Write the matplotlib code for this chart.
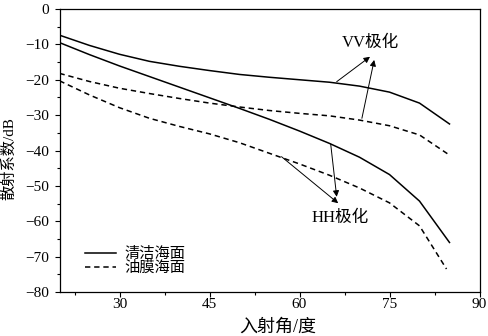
import numpy as np
import matplotlib
matplotlib.use("Agg")
import matplotlib.pyplot as plt

plt.rcParams['font.family'] = ['Liberation Serif', 'Noto Sans CJK SC']
plt.rcParams['axes.unicode_minus'] = True

# incidence angle (deg)
angle = [20, 25, 30, 35, 40, 45, 50, 55, 60, 65, 70, 75, 80, 85]
angle_hh_oil = [20, 25, 30, 35, 40, 45, 50, 55, 60, 65, 70, 75, 80, 84.5]
# backscatter (dB)
vv_clean = [-7.4, -10.3, -12.8, -14.8, -16.2, -17.4, -18.5, -19.3, -20.0, -20.7, -21.8, -23.5, -26.6, -32.5]
hh_clean = [-9.5, -12.9, -16.1, -19.1, -22.1, -25.1, -28.1, -31.2, -34.5, -38.0, -41.9, -46.8, -54.3, -66.0]
vv_oil = [-18.2, -20.5, -22.4, -23.9, -25.3, -26.6, -27.7, -28.7, -29.5, -30.2, -31.4, -33.0, -35.6, -41.3]
hh_oil = [-20.3, -24.3, -27.9, -30.9, -33.2, -35.3, -37.8, -40.8, -43.8, -47.0, -50.6, -54.8, -61.3, -73.5]

fig = plt.figure(figsize=(4.88, 3.36), dpi=100)
ax = fig.add_axes([59.5/488, 1-292/336, (479.5-59.5)/488, (292-9)/336])

dash = (0, (3.5, 2.5))
ax.plot(angle, vv_clean, color="black", lw=1.1, label="清洁海面")
ax.plot(angle, hh_clean, color="black", lw=1.1)
ax.plot(angle, vv_oil, color="black", lw=1.1, ls=dash, label="油膜海面")
ax.plot(angle_hh_oil, hh_oil, color="black", lw=1.1, ls=dash)

ap = dict(arrowstyle="-|>", color="black", lw=0.7, mutation_scale=9, shrinkA=0, shrinkB=0)
ax.annotate("", xy=(71.75, -13.5), xytext=(66.2, -20.55), arrowprops=ap)
ax.annotate("", xy=(72.45, -14.4), xytext=(70.4, -30.9), arrowprops=ap)
ax.annotate("", xy=(66.2, -53.1), xytext=(65.2, -38.2), arrowprops=ap)
ax.annotate("", xy=(66.45, -54.9), xytext=(57.0, -41.75), arrowprops=ap)
ax.text(71.75, -9.7, "VV极化", ha="center", va="center", fontsize=12)
ax.text(66.8, -59.1, "HH极化", ha="center", va="center", fontsize=12)

ax.set_xlim(20, 90)
ax.set_ylim(-80, 0)
ax.set_xticks([30, 45, 60, 75, 90])
ax.set_xticks(np.arange(22.5, 90, 15), minor=True)
ax.set_yticks(np.arange(-80, 1, 10))
ax.set_yticks(np.arange(-75, 0, 10), minor=True)
ax.tick_params(which="major", direction="out", length=3.5, width=0.8, labelsize=11)
ax.tick_params(axis="y", pad=4)
ax.tick_params(axis="x", pad=1)
ax.tick_params(which="minor", direction="out", length=2, width=0.8)
for s in ax.spines.values():
    s.set_linewidth(0.9)

ax.set_xlabel("入射角/度", fontsize=13)
ax.xaxis.set_label_coords(0.52, -0.095)
ax.set_ylabel("散射系数/dB", fontsize=11, va="center")
ax.yaxis.set_label_coords(-0.12, 0.47)

ax.legend(loc="lower left", bbox_to_anchor=(0.061, 0.06), frameon=False, fontsize=11,
          handlelength=2.0, handletextpad=0.55, labelspacing=0.0, borderaxespad=0, borderpad=0)

fig.savefig("out.png", dpi=100)
